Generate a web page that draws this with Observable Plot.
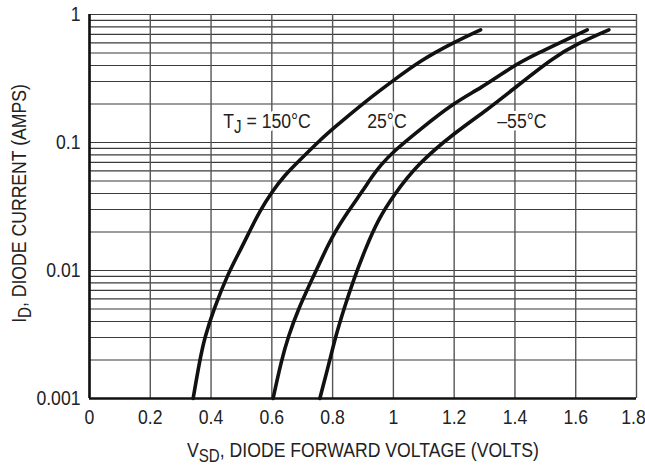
<!DOCTYPE html>
<html>
<head>
<meta charset="utf-8">
<script src="https://cdn.jsdelivr.net/npm/d3@7"></script>
<script src="https://cdn.jsdelivr.net/npm/@observablehq/plot@0.6"></script>
<style>
  html, body { margin: 0; padding: 0; background: #ffffff; }
  #chart { width: 645px; height: 467px; }
</style>
</head>
<body>
<div id="chart"></div>
<script>
// ---- tick values and labels ----
const xTicks = [0, 0.2, 0.4, 0.6, 0.8, 1, 1.2, 1.4, 1.6, 1.8];
const xTickLabels = ["0", "0.2", "0.4", "0.6", "0.8", "1", "1.2", "1.4", "1.6", "1.8"];
const yTicks = [0.001, 0.01, 0.1, 1];
const yTickLabels = ["0.001", "0.01", "0.1", "1"];
const yGrid = [
  0.001, 0.002, 0.003, 0.004, 0.005, 0.006, 0.007, 0.008, 0.009,
  0.01, 0.02, 0.03, 0.04, 0.05, 0.06, 0.07, 0.08, 0.09,
  0.1, 0.2, 0.3, 0.4, 0.5, 0.6, 0.7, 0.8, 0.9, 1
];

// ---- series (V_SD volts, I_D amps) ----
const v150 = [0.341, 0.363, 0.379, 0.409, 0.456, 0.497, 0.530, 0.560, 0.600, 0.640, 0.700, 0.760, 0.804, 0.914, 1.000, 1.089, 1.200, 1.287];
const i150 = [0.001, 0.002, 0.003, 0.005, 0.0095, 0.0145, 0.021, 0.029, 0.041, 0.055, 0.076, 0.105, 0.130, 0.215, 0.305, 0.437, 0.608, 0.759];

const v25 = [0.604, 0.632, 0.653, 0.687, 0.733, 0.771, 0.804, 0.853, 0.892, 0.936, 0.957, 1.000, 1.085, 1.200, 1.287, 1.390, 1.460, 1.638];
const i25 = [0.001, 0.002, 0.003, 0.005, 0.0086, 0.0135, 0.0194, 0.0294, 0.0397, 0.0569, 0.0661, 0.085, 0.125, 0.205, 0.265, 0.390, 0.480, 0.759];

const vm55 = [0.758, 0.791, 0.809, 0.837, 0.870, 0.908, 0.950, 1.000, 1.080, 1.199, 1.309, 1.402, 1.528, 1.605, 1.709];
const im55 = [0.001, 0.002, 0.003, 0.005, 0.0086, 0.0148, 0.025, 0.0385, 0.068, 0.118, 0.180, 0.270, 0.464, 0.590, 0.759];

// ---- curve labels ----
const labelText = ["T{J} = 150°C", "25°C", "–55°C"];
const labelV = [0.44, 0.914, 1.342];
const labelI = [0.147, 0.147, 0.147];

const xTitle = "V{SD}, DIODE FORWARD VOLTAGE (VOLTS)";
const yTitle = "I{D}, DIODE CURRENT (AMPS)";

// ---- build tables ----
const series = [
  {name: "150", v: v150, i: i150},
  {name: "25", v: v25, i: i25},
  {name: "-55", v: vm55, i: im55}
];
const rows = series.flatMap(s => s.v.map((v, k) => ({series: s.name, v, i: s.i[k]})));
const labels = labelText.map((t, k) => ({t, v: labelV[k], i: labelI[k]}));
const lastX = xTicks[xTicks.length - 1];
const xTickFmt = d => xTickLabels[xTicks.indexOf(d)];

const FONT = "'Liberation Sans', Arial, sans-serif";
const FS = 21;
const NARROW = 0.84;   // horizontal condensing of all text

const chart = Plot.plot({
  width: 645,
  height: 467,
  marginLeft: 89,
  marginRight: 9,
  marginTop: 14,
  marginBottom: 69,
  style: {fontFamily: FONT, fontSize: FS + "px", color: "#222", background: "#ffffff", overflow: "visible"},
  x: {domain: [0, 1.8], label: null},
  y: {type: "log", domain: [0.001, 1], label: null},
  marks: [
    Plot.ruleY(yGrid, {stroke: "#3a3a3a", strokeWidth: 1.1}),
    Plot.ruleX(xTicks, {stroke: "#555", strokeWidth: 1.4}),
    Plot.ruleX([0], {stroke: "#111", strokeWidth: 2.6}),
    Plot.ruleY([0.001], {stroke: "#111", strokeWidth: 2.6}),
    Plot.axisX({ticks: xTicks.filter(d => d !== lastX), tickFormat: xTickFmt, tickSize: 0, tickPadding: 11, label: null, fill: "#222"}),
    Plot.axisX({ticks: [lastX], tickFormat: xTickFmt, tickSize: 0, tickPadding: 11, dx: -3, label: null, fill: "#222"}),
    Plot.axisY({ticks: yTicks, tickFormat: d => yTickLabels[yTicks.indexOf(d)], tickSize: 0, tickPadding: 9, label: null, fill: "#222"}),
    Plot.line(rows, {x: "v", y: "i", z: "series", stroke: "#111", strokeWidth: 3.6, curve: "basis", strokeLinecap: "round", strokeLinejoin: "round"}),
    Plot.text(labels, {x: "v", y: "i", text: "t", textAnchor: "start", lineAnchor: "middle", fill: "#222", stroke: "#ffffff", strokeWidth: 6, fontSize: FS}),
    Plot.text([xTitle], {frameAnchor: "bottom", dy: 52, text: d => d, textAnchor: "middle", lineAnchor: "middle", fill: "#222", fontSize: FS}),
    Plot.text([yTitle], {frameAnchor: "left", dx: -70, dy: -3, rotate: -90, text: d => d, textAnchor: "middle", lineAnchor: "middle", fill: "#222", fontSize: FS})
  ]
});

const SVGNS = "http://www.w3.org/2000/svg";
d3.select(chart).selectAll("text").each(function () {
  const el = this;
  // convert {…} markup into subscript tspans
  const content = el.textContent;
  if (content.includes("{")) {
    const parts = content.split(/(\{[^}]*\})/).filter(p => p.length);
    while (el.firstChild) el.removeChild(el.firstChild);
    const shift = 5;
    let lowered = false;
    parts.forEach(p => {
      const ts = document.createElementNS(SVGNS, "tspan");
      if (p.startsWith("{")) {
        ts.textContent = p.slice(1, -1);
        ts.setAttribute("dy", shift);
        ts.setAttribute("font-size", Math.round(FS * 0.85));
        lowered = true;
      } else {
        ts.textContent = p;
        if (lowered) { ts.setAttribute("dy", -shift); lowered = false; }
      }
      el.appendChild(ts);
    });
  }
  // condense horizontally around the text's own anchor point
  const xa = el.getAttribute("x");
  if (xa !== null && !isNaN(+xa) && +xa !== 0) el.setAttribute("x", +xa / NARROW);
  const t = el.getAttribute("transform") || "";
  el.setAttribute("transform", `${t} scale(${NARROW},1)`.trim());
});

document.getElementById("chart").appendChild(chart);
</script>
</body>
</html>
